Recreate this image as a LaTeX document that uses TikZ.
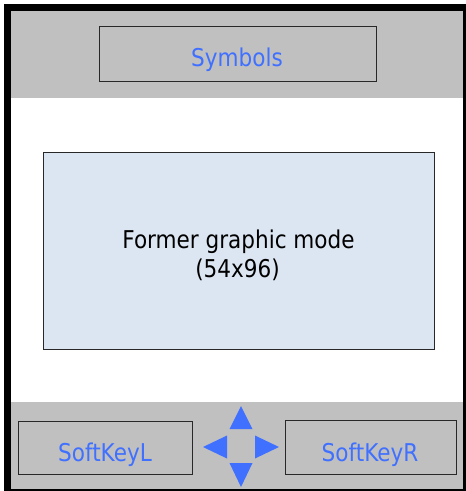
\documentclass[tikz,border=0pt]{standalone}
\usepackage{fontspec}
\setmainfont{DejaVu Sans}[FakeStretch=0.88]
\definecolor{panelgrey}{RGB}{192,192,192}
\definecolor{keyblue}{RGB}{64,112,255}
\definecolor{screenblue}{RGB}{220,230,242}
\definecolor{edgegrey}{RGB}{40,40,40}
\begin{document}
\begin{tikzpicture}[x=1pt,y=-1pt,
  panelbox/.style={draw=edgegrey,line width=1.4pt,inner sep=0pt,anchor=north west},
  keylabel/.style={text=keyblue,anchor=base,inner sep=0pt,font=\fontsize{24.5}{30}\selectfont},
  screenlabel/.style={text=black,anchor=base,inner sep=0pt,font=\fontsize{24.5}{30}\selectfont},
  navarrow/.style={fill=keyblue}]
\useasboundingbox (0,0) rectangle (466,491);
% outer device frame and panels
\fill[white] (0,0) rectangle (466,491);
\fill[black] (4,4) rectangle (466,491);
\fill[panelgrey] (11,11) rectangle (463,98);
\fill[white] (11,98) rectangle (463,402);
\fill[panelgrey] (11,402) rectangle (463,489);
% top symbols bar
\node[panelbox,minimum width=277pt,minimum height=55pt] (symbols) at (99,26) {};
\node[keylabel] (symtext) at (237,66) {Symbols};
% central screen area
\node[panelbox,fill=screenblue,minimum width=391pt,minimum height=197pt] (screen) at (43,152) {};
\node[screenlabel] (modetext) at (238.5,248) {Former graphic mode};
\node[screenlabel] (sizetext) at (237.5,277) {(54x96)};
% soft keys
\node[panelbox,minimum width=174pt,minimum height=53pt] (softl) at (18,421) {};
\node[keylabel] (softltext) at (105,461) {SoftKeyL};
\node[panelbox,minimum width=171pt,minimum height=54pt] (softr) at (285,420) {};
\node[keylabel] (softrtext) at (370,461) {SoftKeyR};
% navigation arrows
\fill[navarrow] (241,406) -- (252.5,429) -- (229.5,429) -- cycle;
\fill[navarrow] (241,487) -- (252.5,463) -- (229.5,463) -- cycle;
\fill[navarrow] (203,447) -- (227,435.5) -- (227,458.5) -- cycle;
\fill[navarrow] (279,447) -- (255,435.5) -- (255,458.5) -- cycle;
\end{tikzpicture}
\end{document}
